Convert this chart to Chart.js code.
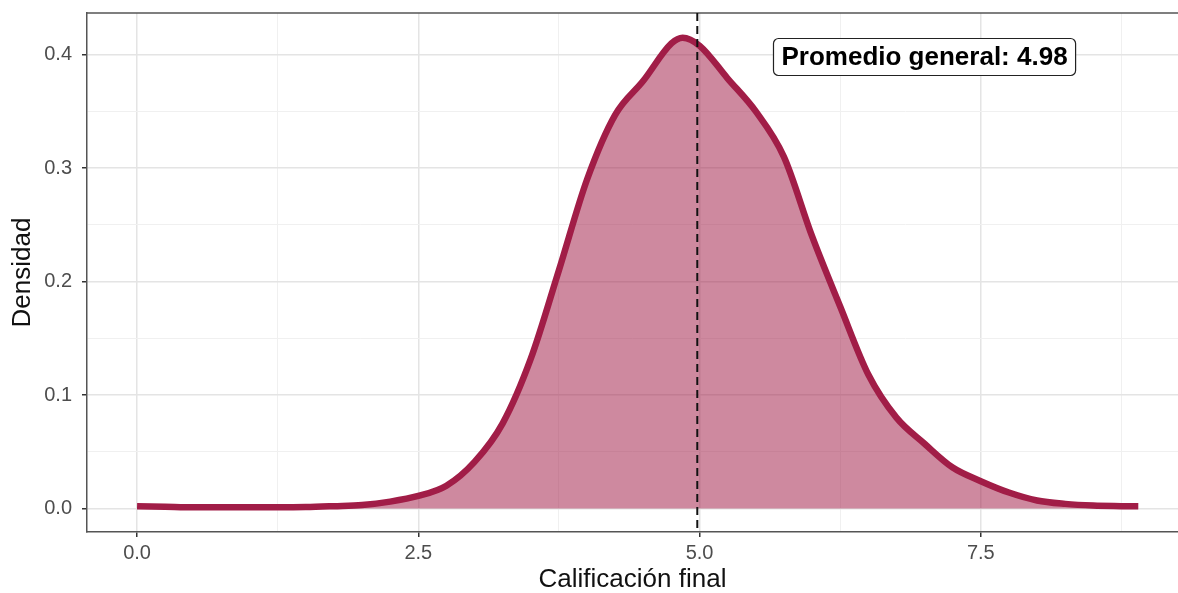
<!DOCTYPE html>
<html>
<head>
<meta charset="utf-8">
<script src="https://cdn.jsdelivr.net/npm/chart.js@4.4.1/dist/chart.umd.min.js"></script>
<style>
  body { margin: 0; background: #fff; }
  #wrap { width: 1178px; height: 593px; position: relative; }
</style>
</head>
<body>
<div id="wrap"><canvas id="densityChart"></canvas></div>
<script>
// Datos (densidad de la calificación final)
const calificaciones = [0, 0.25, 0.5, 0.75, 1.0, 1.25, 1.5, 1.75, 2.0, 2.25, 2.5, 2.75, 3.0, 3.25, 3.5, 3.75, 4.0, 4.25, 4.5, 4.75, 4.85, 5.0, 5.25, 5.5, 5.75, 6.0, 6.25, 6.5, 6.75, 7.0, 7.25, 7.5, 7.75, 8.0, 8.25, 8.5, 8.75, 8.9];
const densidad = [0.002, 0.0015, 0.001, 0.001, 0.001, 0.001, 0.0012, 0.002, 0.003, 0.006, 0.011, 0.020, 0.041, 0.075, 0.132, 0.210, 0.290, 0.347, 0.377, 0.410, 0.415, 0.408, 0.379, 0.350, 0.310, 0.240, 0.178, 0.118, 0.080, 0.057, 0.036, 0.024, 0.014, 0.007, 0.004, 0.0025, 0.002, 0.0018];
const promedio = 4.98;
const etiquetaPromedio = 'Promedio general: ' + promedio.toFixed(2);
const xTicks = [0, 1.25, 2.5, 3.75, 5.0, 6.25, 7.5, 8.75];
const yTicks = [0, 0.05, 0.1, 0.15, 0.2, 0.25, 0.3, 0.35, 0.4];
const xMajor = [0, 2.5, 5.0, 7.5];
const yMajor = [0, 0.1, 0.2, 0.3, 0.4];

const puntos = calificaciones.map((x, i) => ({ x: x, y: densidad[i] }));

const esMayor = (lista, v) => lista.some(m => Math.abs(m - v) < 1e-9);
const fuente = '"Liberation Sans", Arial, sans-serif';

// Plugin: línea del promedio, etiqueta y borde superior del panel
const promedioPlugin = {
    id: 'promedio',
    afterDatasetsDraw(chart) {
        const ctx = chart.ctx;
        const area = chart.chartArea;
        const xs = chart.scales.x;
        const ys = chart.scales.y;

        // borde superior
        ctx.save();
        ctx.strokeStyle = '#555';
        ctx.lineWidth = 1.5;
        ctx.beginPath();
        ctx.moveTo(area.left, area.top);
        ctx.lineTo(area.right, area.top);
        ctx.stroke();
        ctx.restore();

        // línea discontinua
        const px = xs.getPixelForValue(promedio);
        ctx.save();
        ctx.strokeStyle = '#111';
        ctx.lineWidth = 2;
        ctx.setLineDash([8, 5]);
        ctx.beginPath();
        ctx.moveTo(px, area.top);
        ctx.lineTo(px, area.bottom);
        ctx.stroke();
        ctx.restore();

        // etiqueta
        const cx = xs.getPixelForValue(7.0);
        const cy = ys.getPixelForValue(0.398);
        ctx.save();
        ctx.font = 'bold 26px ' + fuente;
        const w = ctx.measureText(etiquetaPromedio).width;
        const bw = w + 16, bh = 37;
        const bx = cx - bw / 2, by = cy - bh / 2;
        ctx.fillStyle = '#fff';
        ctx.strokeStyle = '#222';
        ctx.lineWidth = 1.2;
        ctx.beginPath();
        ctx.roundRect(bx, by, bw, bh, 5);
        ctx.fill();
        ctx.stroke();
        ctx.fillStyle = '#000';
        ctx.textAlign = 'center';
        ctx.textBaseline = 'middle';
        ctx.fillText(etiquetaPromedio, cx, cy + 1);
        ctx.restore();
    }
};

const ctx = document.getElementById('densityChart').getContext('2d');
const chart = new Chart(ctx, {
    type: 'line',
    data: {
        datasets: [{
            data: puntos,
            borderColor: '#A11D47',
            backgroundColor: 'rgba(161, 29, 71, 0.52)',
            borderWidth: 6.5,
            pointRadius: 0,
            fill: 'origin',
            cubicInterpolationMode: 'monotone'
        }]
    },
    options: {
        responsive: true,
        maintainAspectRatio: false,
        animation: false,
        layout: { padding: { top: 13, right: 0, left: 0, bottom: 0 } },
        plugins: {
            legend: { display: false },
            tooltip: { enabled: false }
        },
        scales: {
            x: {
                type: 'linear',
                min: -0.445,
                max: 9.253,
                afterBuildTicks: s => { s.ticks = xTicks.map(v => ({ value: v })); },
                afterFit: s => { s.height = 61; s.paddingLeft = 0; s.paddingRight = 0; },
                border: { color: '#555', width: 1.5 },
                grid: {
                    color: c => esMayor(xMajor, c.tick.value) ? '#E4E4E4' : '#F0F0F0',
                    lineWidth: c => esMayor(xMajor, c.tick.value) ? 1.5 : 1,
                    tickColor: c => esMayor(xMajor, c.tick.value) ? '#333' : 'rgba(0,0,0,0)',
                    tickLength: 5
                },
                ticks: {
                    autoSkip: false,
                    maxRotation: 0,
                    padding: 4,
                    color: '#4D4D4D',
                    font: { family: fuente, size: 20 },
                    callback: v => esMayor(xMajor, v) ? v.toFixed(1) : ''
                },
                title: {
                    display: true,
                    text: 'Calificación final',
                    color: '#111',
                    padding: { top: 0, bottom: 0 },
                    font: { family: fuente, size: 26, lineHeight: 1 }
                }
            },
            y: {
                type: 'linear',
                min: -0.0208,
                max: 0.4368,
                afterBuildTicks: s => { s.ticks = yTicks.map(v => ({ value: v })); },
                afterFit: s => { s.width = 87; s.paddingTop = 0; s.paddingBottom = 0; },
                border: { color: '#555', width: 1.5 },
                grid: {
                    color: c => esMayor(yMajor, c.tick.value) ? '#E4E4E4' : '#F0F0F0',
                    lineWidth: c => esMayor(yMajor, c.tick.value) ? 1.5 : 1,
                    tickColor: c => esMayor(yMajor, c.tick.value) ? '#333' : 'rgba(0,0,0,0)',
                    tickLength: 5
                },
                ticks: {
                    autoSkip: false,
                    padding: 10,
                    color: '#4D4D4D',
                    font: { family: fuente, size: 20 },
                    callback: v => esMayor(yMajor, v) ? v.toFixed(1) : ''
                },
                title: {
                    display: true,
                    text: 'Densidad',
                    color: '#111',
                    padding: { top: 10, bottom: 0 },
                    font: { family: fuente, size: 26, lineHeight: 1 }
                }
            }
        }
    },
    plugins: [promedioPlugin]
});
</script>
</body>
</html>
